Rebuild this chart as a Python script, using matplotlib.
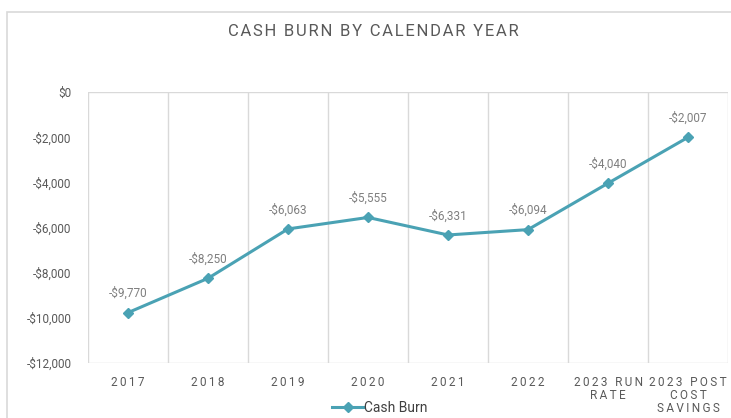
import matplotlib
matplotlib.use("Agg")
import matplotlib.pyplot as plt
from matplotlib.patches import Rectangle
from matplotlib.ticker import FuncFormatter

categories = ["2017", "2018", "2019", "2020", "2021", "2022",
              "2023 RUN\nRATE", "2023 POST\nCOST\nSAVINGS"]
cash_burn = [-9770, -8250, -6063, -5555, -6331, -6094, -4040, -2007]
yticks = [0, -2000, -4000, -6000, -8000, -10000, -12000]

plt.rcParams['font.family'] = ['Roboto', 'DejaVu Sans']


def spaced(s, gap="\u2009"):
    return "\n".join(gap.join(list(line)) for line in s.split("\n"))


W, H = 731, 418
fig = plt.figure(figsize=(W / 100, H / 100), dpi=100)
fig.patches.append(Rectangle((7 / W, -0.05), 1.0, 1 - 12 / H + 0.05,
                             transform=fig.transFigure, fill=False,
                             edgecolor='#d9d9d9', linewidth=1.2))

ax = fig.add_axes([88 / W, 1 - 363 / H, (728 - 88) / W, (363 - 92) / H])
x = list(range(len(categories)))
line_color = '#4aa2b4'
ax.plot(x, cash_burn, color=line_color, linewidth=2.2, marker='D',
        markersize=5.5, label='Cash Burn')

for xi, v in zip(x, cash_burn):
    ax.annotate(f"-${abs(v):,}", (xi, v), xytext=(0, 9), textcoords='offset points',
                ha='center', va='bottom', fontsize=8.5, color='#7f7f7f')

ax.set_xlim(-0.5, len(categories) - 0.5)
ax.set_ylim(-12000, 0)
ax.set_yticks(yticks)
ax.yaxis.set_major_formatter(FuncFormatter(lambda v, p: "$0" if v == 0 else f"-${abs(int(v)):,}"))
ax.set_xticks(x)
ax.set_xticklabels([spaced(c) for c in categories])
for lbl in ax.get_xticklabels():
    lbl.set_linespacing(1.05)
ax.tick_params(axis='x', length=0, pad=9, labelsize=8.5, colors='#595959')
ax.tick_params(axis='y', length=0, pad=12, labelsize=8.5, colors='#595959')

for b in [i - 0.5 for i in range(len(categories) + 1)]:
    ax.axvline(b, color='#d9d9d9', linewidth=1, zorder=0)
for s in ax.spines.values():
    s.set_visible(False)
ax.axhline(0, color='#d9d9d9', linewidth=1, zorder=0)
ax.axhline(-12000, color='#d9d9d9', linewidth=1, zorder=0)

fig.text(373 / W, 1 - 32 / H, spaced("CASH BURN BY CALENDAR YEAR", "\u200a"),
         ha='center', va='center', fontsize=12, color='#595959')

leg = fig.legend(loc='center', bbox_to_anchor=(380 / W, 1 - 408 / H), frameon=False,
                 fontsize=10, handlelength=2.2, handletextpad=0.1, labelcolor='#404040')

fig.savefig("out.png", dpi=100)
